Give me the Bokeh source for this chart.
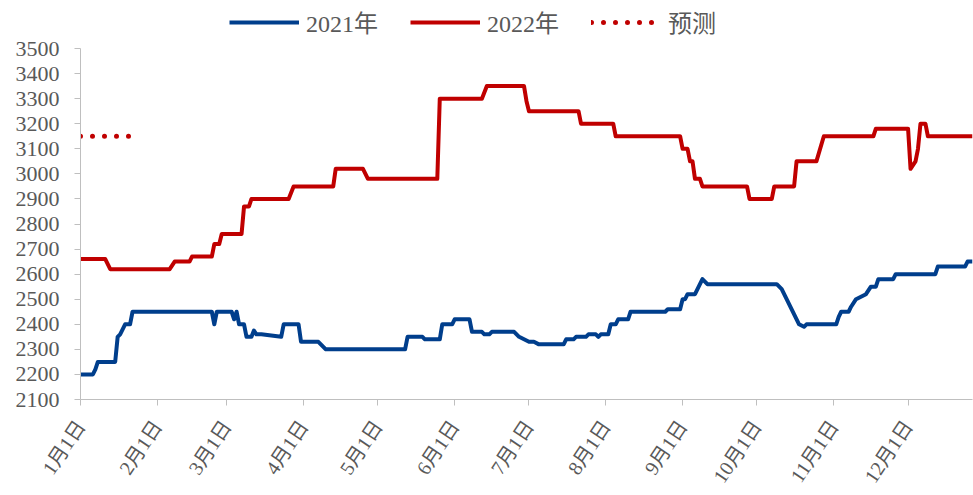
from bokeh.plotting import figure
from bokeh.models import Range1d, FixedTicker, Legend, LegendItem, ColumnDataSource
from bokeh.embed import file_html
from bokeh.resources import INLINE
import pandas as pd

# ---- data ----
tick_dates = ["01-01", "02-01", "03-01", "04-01", "05-01", "06-01",
              "07-01", "08-01", "09-01", "10-01", "11-01", "12-01"]
tick_labels = ["1月1日", "2月1日", "3月1日", "4月1日", "5月1日", "6月1日",
               "7月1日", "8月1日", "9月1日", "10月1日", "11月1日", "12月1日"]
y_ticks = [2100, 2200, 2300, 2400, 2500, 2600, 2700, 2800, 2900, 3000,
           3100, 3200, 3300, 3400, 3500]
y_min, y_max = 2100, 3500

dates_2021 = ["01-01", "01-06", "01-07", "01-08", "01-15", "01-16", "01-17", "01-19", "01-21",
              "01-22", "02-23", "02-24", "02-25", "03-03", "03-04", "03-05", "03-06", "03-08",
              "03-09", "03-11", "03-12", "03-13", "03-15", "03-23", "03-24", "03-30", "03-31",
              "04-07", "04-08", "04-09", "04-10", "05-12", "05-13", "05-19", "05-20", "05-26",
              "05-27", "05-31", "06-01", "06-07", "06-08", "06-12", "06-13", "06-15", "06-16",
              "06-25", "06-27", "06-29", "07-01", "07-03", "07-05", "07-15", "07-16", "07-19",
              "07-20", "07-24", "07-25", "07-28", "07-29", "07-30", "08-02", "08-03", "08-05",
              "08-06", "08-10", "08-11", "08-25", "08-26", "08-31", "09-01", "09-02", "09-03",
              "09-06", "09-09", "09-11", "10-09", "10-11", "10-18", "10-20", "10-21", "11-02",
              "11-03", "11-04", "11-07", "11-08", "11-10", "11-12", "11-14", "11-16", "11-18",
              "11-19", "11-25", "11-26", "12-12", "12-13", "12-24", "12-25", "12-27"]
values_2021 = [2200, 2200, 2220, 2250, 2250, 2350, 2360, 2400, 2400,
               2450, 2450, 2400, 2450, 2450, 2420, 2450, 2400, 2400,
               2350, 2350, 2375, 2360, 2360, 2350, 2400, 2400, 2330,
               2330, 2320, 2310, 2300, 2300, 2350, 2350, 2340, 2340,
               2400, 2400, 2420, 2420, 2370, 2370, 2360, 2360, 2370,
               2370, 2350, 2340, 2330, 2330, 2320, 2320, 2340, 2340,
               2350, 2350, 2360, 2360, 2350, 2360, 2360, 2400, 2400,
               2420, 2420, 2450, 2450, 2460, 2460, 2500, 2500, 2520,
               2520, 2580, 2560, 2560, 2540, 2400, 2390, 2400, 2400,
               2430, 2450, 2450, 2470, 2500, 2510, 2520, 2550, 2550,
               2580, 2580, 2600, 2600, 2630, 2630, 2650, 2650]

dates_2022 = ["01-01", "01-11", "01-13", "02-06", "02-08", "02-14", "02-15", "02-23", "02-24",
              "02-26", "02-27", "03-07", "03-08", "03-10", "03-11", "03-26", "03-28", "04-13",
              "04-14", "04-25", "04-27", "05-25", "05-26", "06-12", "06-14", "06-29", "06-30",
              "07-01", "07-21", "07-22", "08-04", "08-05", "08-31", "09-01", "09-03", "09-04",
              "09-05", "09-06", "09-08", "09-09", "09-27", "09-28", "10-07", "10-08", "10-16",
              "10-17", "10-25", "10-28", "11-17", "11-18", "12-01", "12-02", "12-04", "12-05",
              "12-06", "12-08", "12-09", "12-27"]
values_2022 = [2660, 2660, 2620, 2620, 2650, 2650, 2670, 2670, 2720,
               2720, 2760, 2760, 2870, 2870, 2900, 2900, 2950, 2950,
               3020, 3020, 2980, 2980, 3300, 3300, 3350, 3350, 3290,
               3250, 3250, 3200, 3200, 3150, 3150, 3100, 3100, 3050,
               3050, 2980, 2980, 2950, 2950, 2900, 2900, 2950, 2950,
               3050, 3050, 3150, 3150, 3180, 3180, 3020, 3050, 3100,
               3200, 3200, 3150, 3150]

dates_forecast = ["01-01", "01-22"]
values_forecast = [3150, 3150]


def day_index(md):
    return pd.Timestamp("2021-" + md).dayofyear - 1


BLUE = "#003E8C"
RED = "#C00000"
TEXT = "#595959"
AXIS = "#BFBFBF"
FONT = "Liberation Serif, Noto Sans CJK SC"

# frame spans the full top of the figure; the axis is limited to 2100-3500
FRAME_H = 399
AXIS_H = 351
top_value = y_min + (y_max - y_min) * FRAME_H / AXIS_H

p = figure(width=973, height=495, output_backend="svg", toolbar_location=None,
           x_range=Range1d(0, 360), y_range=Range1d(y_min, top_value),
           min_border_left=80, min_border_right=1, min_border_top=0,
           min_border_bottom=96)
p.outline_line_color = None
p.xgrid.visible = False
p.ygrid.visible = False

s21 = ColumnDataSource(dict(x=[day_index(d) for d in dates_2021], y=values_2021))
s22 = ColumnDataSource(dict(x=[day_index(d) for d in dates_2022], y=values_2022))
sfc = ColumnDataSource(dict(x=[day_index(d) for d in dates_forecast], y=values_forecast))

r21 = p.line("x", "y", source=s21, line_color=BLUE, line_width=4, line_join="round")
r22 = p.line("x", "y", source=s22, line_color=RED, line_width=4, line_join="round")
rfc = p.line("x", "y", source=sfc, line_color=RED, line_width=5, line_dash="0 12",
             line_cap="round")

# axes
ticks = [day_index(d) for d in tick_dates]
p.xaxis.ticker = FixedTicker(ticks=ticks)
p.xaxis.major_label_overrides = {t: lab for t, lab in zip(ticks, tick_labels)}
p.xaxis.major_label_orientation = 0.98
p.yaxis.ticker = FixedTicker(ticks=y_ticks)
p.yaxis.bounds = (y_min, y_max)
for ax in (p.xaxis, p.yaxis):
    ax.axis_line_color = AXIS
    ax.axis_line_width = 1
    ax.major_tick_line_color = AXIS
    ax.major_tick_out = 6
    ax.major_tick_in = 0
    ax.minor_tick_line_color = None
    ax.major_label_text_color = TEXT
    ax.major_label_text_font = FONT
p.yaxis.major_label_text_font_size = "22px"
p.yaxis.major_label_standoff = 15
p.xaxis.major_label_text_font_size = "20px"
p.xaxis.major_label_standoff = 17

legend = Legend(items=[LegendItem(label="2021年", renderers=[r21]),
                       LegendItem(label="2022年", renderers=[r22]),
                       LegendItem(label="预测", renderers=[rfc])],
                orientation="horizontal", location=(149, 360))
legend.label_text_font = FONT
legend.label_text_font_size = "24px"
legend.label_text_color = TEXT
legend.glyph_width = 70
legend.glyph_height = 20
legend.label_standoff = 7
legend.spacing = 32
legend.padding = 0
legend.margin = 0
legend.border_line_color = None
legend.background_fill_alpha = 0
p.add_layout(legend, "center")

open("out.html", "w").write(file_html(p, INLINE))
